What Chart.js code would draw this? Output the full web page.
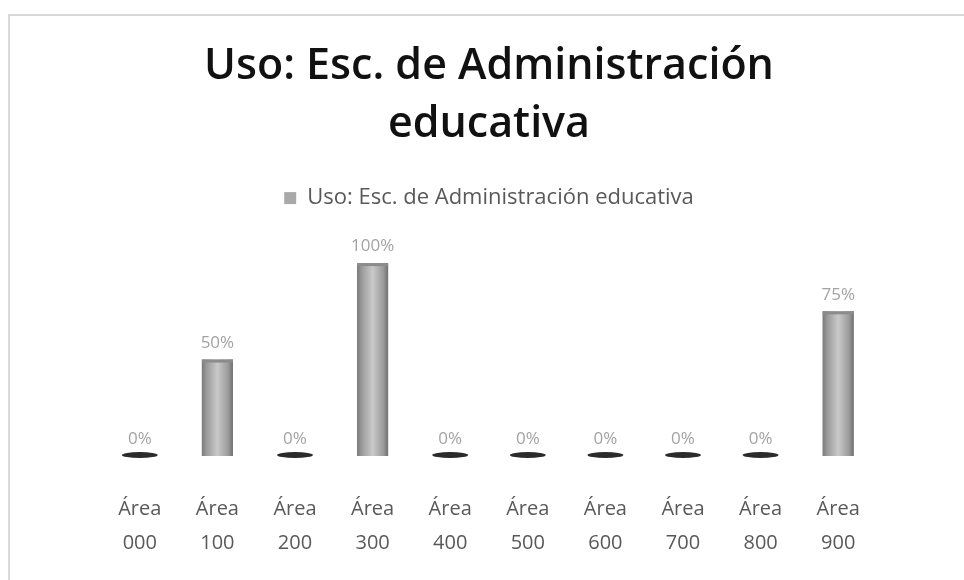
<!DOCTYPE html>
<html>
<head>
<meta charset="utf-8">
<script src="https://cdn.jsdelivr.net/npm/chart.js@4.4.1/dist/chart.umd.min.js"></script>
<style>
  html, body { margin: 0; padding: 0; background: #ffffff; }
  #wrap { position: relative; width: 964px; height: 580px; }
  #frame { position: absolute; left: 8px; top: 14px; width: 958px; height: 570px; border: 2px solid #d9d9d9; box-sizing: border-box; }
  canvas { position: absolute; left: 0; top: 0; }
</style>
</head>
<body>
<div id="wrap">
  <div id="frame"></div>
  <canvas id="chart" width="964" height="580"></canvas>
</div>
<script>
const categories = ['000', '100', '200', '300', '400', '500', '600', '700', '800', '900'];
const seriesName = 'Uso: Esc. de Administración educativa';
const usage = [0, 50, 0, 100, 0, 0, 0, 0, 0, 75];

const labels = categories.map(c => ['Área', c]);

// extra space under the legend
const legendGap = {
  id: 'legendGap',
  beforeInit(chart) {
    const fit = chart.legend.fit;
    chart.legend.fit = function () {
      fit.bind(chart.legend)();
      this.height += 44;
    };
  }
};

// cylinder-ish shading, zero discs and value labels
const valueLabels = {
  id: 'valueLabels',
  afterDatasetsDraw(chart) {
    const ctx = chart.ctx;
    const meta = chart.getDatasetMeta(0);
    ctx.save();
    meta.data.forEach((bar, i) => {
      const v = usage[i];
      const half = bar.width / 2;
      if (v === 0) {
        ctx.fillStyle = '#2b2b2b';
        ctx.beginPath();
        ctx.ellipse(bar.x, bar.base - 1, 18, 3, 0, 0, Math.PI * 2);
        ctx.fill();
      } else {
        const g = ctx.createLinearGradient(bar.x - half, 0, bar.x + half, 0);
        g.addColorStop(0, '#7a7a7a');
        g.addColorStop(0.15, '#9a9a9a');
        g.addColorStop(0.5, '#c9c9c9');
        g.addColorStop(0.85, '#9a9a9a');
        g.addColorStop(1, '#6f6f6f');
        ctx.fillStyle = g;
        ctx.fillRect(bar.x - half, bar.y, bar.width, bar.base - bar.y);
        ctx.fillStyle = '#8c8c8c';
        ctx.fillRect(bar.x - half, bar.y, bar.width, 3);
      }
      ctx.fillStyle = '#a3a3a3';
      ctx.font = '17px "Open Sans", sans-serif';
      ctx.textAlign = 'center';
      ctx.textBaseline = 'bottom';
      ctx.fillText(v + '%', bar.x, bar.y - 8);
    });
    ctx.restore();
  }
};

const ctx = document.getElementById('chart');
new Chart(ctx, {
  type: 'bar',
  data: {
    labels: labels,
    datasets: [
      {
        label: seriesName,
        data: usage,
        backgroundColor: '#a9a9a9',
        borderWidth: 0,
        barPercentage: 0.4,
        categoryPercentage: 1.0
      }
    ]
  },
  options: {
    responsive: false,
    animation: false,
    layout: { padding: { left: 101, right: 87, top: 10, bottom: -8 } },
    scales: {
      x: {
        grid: { display: false },
        border: { display: false },
        ticks: {
          color: '#595959',
          font: { family: '"Open Sans", sans-serif', size: 20, lineHeight: 1.7 },
          maxRotation: 0,
          autoSkip: false,
          padding: 28
        }
      },
      y: {
        display: false,
        min: 0,
        max: 100
      }
    },
    plugins: {
      title: {
        display: true,
        text: ['Uso: Esc. de Administración', 'educativa'],
        color: '#111111',
        font: { family: '"Open Sans", sans-serif', size: 43, weight: '600', lineHeight: 1.35 },
        padding: { top: 28, bottom: 23 }
      },
      legend: {
        display: true,
        labels: {
          color: '#595959',
          font: { family: '"Open Sans", sans-serif', size: 22 },
          boxWidth: 12,
          boxHeight: 12,
          padding: 10
        }
      },
      tooltip: { enabled: false }
    }
  },
  plugins: [legendGap, valueLabels]
});
</script>
</body>
</html>
